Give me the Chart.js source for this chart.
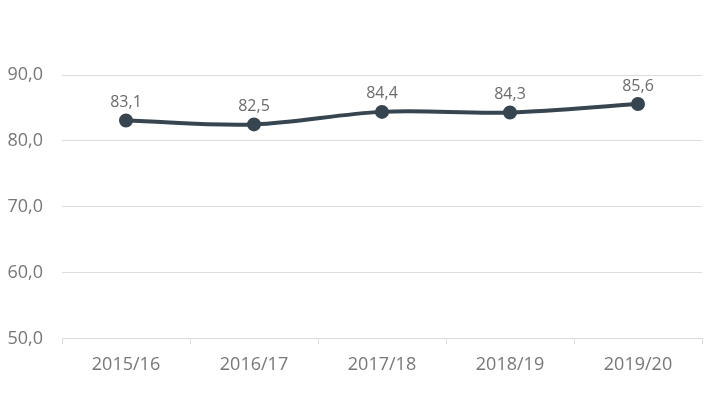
<!DOCTYPE html>
<html>
<head>
<meta charset="utf-8">
<script src="https://cdn.jsdelivr.net/npm/chart.js@4"></script>
<style>
    html, body { margin: 0; padding: 0; background: #fff; }
    #wrap { width: 712px; height: 402px; }
</style>
</head>
<body>
<div id="wrap"><canvas id="chart"></canvas></div>
<script>
// ── Data ──────────────────────────────────────────────────────────────
const years  = ['2015/16', '2016/17', '2017/18', '2018/19', '2019/20'];
const values = [83.1, 82.5, 84.4, 84.3, 85.6];
const yTicks = [50, 60, 70, 80, 90];

const fmt = v => v.toFixed(1).replace('.', ',');
const GREY = '#777777';
const GRID = '#dcdcdc';

// Value labels above each point
const pointLabels = {
    id: 'pointLabels',
    afterDatasetsDraw(chart) {
        const { ctx } = chart;
        const meta = chart.getDatasetMeta(0);
        ctx.save();
        ctx.font = '16px "Open Sans"';
        ctx.fillStyle = '#6b6b6b';
        ctx.textAlign = 'center';
        ctx.textBaseline = 'middle';
        meta.data.forEach((pt, i) => {
            ctx.fillText(fmt(values[i]), pt.x, pt.y - 18);
        });
        ctx.restore();
    },
};

new Chart(document.getElementById('chart'), {
    type: 'line',
    data: {
        labels: years,
        datasets: [{
            data:             values,
            borderColor:      '#36454f',
            backgroundColor:  '#36454f',
            borderWidth:      4,
            pointRadius:      5,
            pointHoverRadius: 5,
            tension:          0.35,
            fill:             false,
        }],
    },
    options: {
        responsive:          true,
        maintainAspectRatio: false,
        animation:           false,
        layout: { padding: { top: 75, right: 10, bottom: 16, left: 0 } },
        plugins: {
            legend:  { display: false },
            tooltip: { enabled: false },
        },
        scales: {
            x: {
                offset: true,
                grid: {
                    offset:          true,
                    drawOnChartArea: false,
                    drawTicks:       true,
                    tickLength:      6,
                    color:           GRID,
                },
                border: { display: true, color: GRID },
                ticks: {
                    color:   GREY,
                    padding: 10,
                    font:    { family: 'Open Sans', size: 18 },
                },
            },
            y: {
                min: 50,
                max: 90,
                afterFit: axis => { axis.width = 62; },
                afterBuildTicks: axis => { axis.ticks = yTicks.map(v => ({ value: v })); },
                grid:   { color: GRID, drawTicks: false },
                border: { display: false },
                ticks: {
                    color:    GREY,
                    padding:  19,
                    font:     { family: 'Open Sans', size: 18 },
                    callback: v => fmt(v),
                },
            },
        },
    },
    plugins: [pointLabels],
});
</script>
</body>
</html>
